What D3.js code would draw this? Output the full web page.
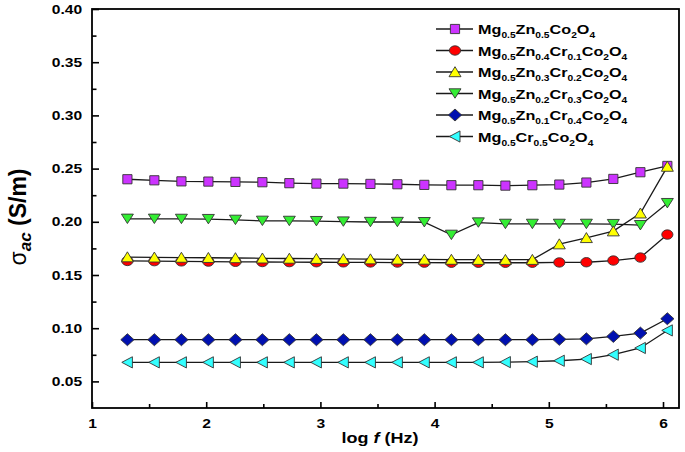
<!DOCTYPE html>
<html><head><meta charset="utf-8">
<script src="https://cdn.jsdelivr.net/npm/d3@7"></script>
<style>body{margin:0;background:#fff}svg{display:block}</style>
</head><body>
<svg id="chart" width="685" height="452"></svg>
<script>
// ---------- data ----------
const logF = [1.31,1.546,1.783,2.019,2.256,2.492,2.728,2.965,3.201,3.438,3.674,3.910,4.147,4.383,4.620,4.856,5.092,5.329,5.565,5.802,6.038];
const labels = ["Mg0.5Zn0.5Co2O4","Mg0.5Zn0.4Cr0.1Co2O4","Mg0.5Zn0.3Cr0.2Co2O4","Mg0.5Zn0.2Cr0.3Co2O4","Mg0.5Zn0.1Cr0.4Co2O4","Mg0.5Cr0.5Co2O4"];
const sZn05 = [0.240,0.239,0.238,0.2378,0.2375,0.2372,0.2363,0.2359,0.2359,0.2356,0.2353,0.2347,0.2344,0.2344,0.2340,0.2344,0.2350,0.2369,0.2403,0.2466,0.2525];
const sCr01 = [0.1632,0.1630,0.1628,0.1626,0.1624,0.1622,0.1621,0.1620,0.1619,0.1618,0.1617,0.1616,0.1615,0.1615,0.1615,0.1615,0.1618,0.1620,0.1636,0.1664,0.1880];
const sCr02 = [0.1668,0.1666,0.1664,0.1662,0.1660,0.1657,0.1655,0.1653,0.1651,0.1649,0.1647,0.1646,0.1645,0.1644,0.1644,0.1644,0.1790,0.1849,0.1912,0.2080,0.2519];
const sCr03 = [0.2028,0.2028,0.2027,0.2025,0.2018,0.2009,0.2008,0.2006,0.2002,0.1998,0.1998,0.1996,0.1877,0.1993,0.1980,0.1980,0.1980,0.1980,0.1978,0.1968,0.2175];
const sCr04 = [0.0892,0.0892,0.0892,0.0892,0.0892,0.0892,0.0892,0.0892,0.0892,0.0892,0.0892,0.0892,0.0892,0.0892,0.0892,0.0892,0.0895,0.0900,0.0923,0.0954,0.1089];
const sCr05 = [0.0679,0.0679,0.0679,0.0679,0.0679,0.0679,0.0679,0.0679,0.0679,0.0679,0.0679,0.0679,0.0679,0.0679,0.0681,0.0685,0.0694,0.0710,0.0751,0.0814,0.0979];
const markerTypes = ["square","circle","up","down","diamond","left"];
const colors = ["#cc33ff","#ff0000","#ffff00","#33ee33","#0010b0","#33ffff"];
const xTicks = [1,2,3,4,5,6];
const xMinorTicks = [1.5,2.5,3.5,4.5,5.5];
const yTicks = [0.05,0.10,0.15,0.20,0.25,0.30,0.35,0.40];
const yMinorTicks = [0.075,0.125,0.175,0.225,0.275,0.325,0.375];

const allSeries = [sZn05,sCr01,sCr02,sCr03,sCr04,sCr05];

// ---------- layout ----------
const SX = 1.2; // horizontal text stretch as in the original
const L = 92, R = 679, T = 9, B = 408;
const svg = d3.select("#chart");
const x = d3.scaleLinear().domain([1, 6.14]).range([L, R]);
const y = d3.scaleLinear().domain([0.025, 0.40]).range([B, T]);
const FONT = "'Liberation Sans', Arial, sans-serif";

function markerPath(type){
  switch(type){
    case "square": return "M-4.6,-4.6H4.6V4.6H-4.6Z";
    case "up": return "M0,-5.3L6,4.7L-6,4.7Z";
    case "down": return "M0,4.7L6,-4.7L-6,-4.7Z";
    case "diamond": return "M0,-6L6.6,0L0,6L-6.6,0Z";
    case "left": return "M-5.6,0L5,-5.6L5,5.6Z";
  }
  return null;
}
function drawMarker(g, type, fill){
  if(type === "circle"){
    return g.append("ellipse").attr("rx",5.6).attr("ry",4.7)
      .attr("fill",fill).attr("stroke","#333").attr("stroke-width",0.9);
  }
  return g.append("path").attr("d",markerPath(type))
    .attr("fill",fill).attr("stroke","#333").attr("stroke-width",0.9);
}

// ---------- axes ----------
const yAxis = d3.axisLeft(y).tickValues(yTicks).tickSize(-7).tickPadding(8.3).tickFormat(d3.format(".2f"));
const gy = svg.append("g").attr("transform",`translate(${L},0)`).call(yAxis);
const gyMinor = svg.append("g").attr("transform",`translate(${L},0)`)
  .call(d3.axisLeft(y).tickValues(yMinorTicks).tickSize(-4.5).tickFormat(""));
const xAxis = d3.axisBottom(x).tickValues(xTicks).tickSize(-6).tickPadding(11).tickFormat(d3.format("d"));
const gx = svg.append("g").attr("transform",`translate(0,${B})`).call(xAxis);
const gxMinor = svg.append("g").attr("transform",`translate(0,${B})`)
  .call(d3.axisBottom(x).tickValues(xMinorTicks).tickSize(-4).tickFormat(""));
[gy,gyMinor,gx,gxMinor].forEach(g=>{
  g.select(".domain").remove();
  g.selectAll(".tick line").attr("stroke","#000").attr("stroke-width",1.6);
  g.selectAll(".tick text").attr("fill","#000")
    .style("font-family",FONT).style("font-weight","bold").style("font-size","13px")
    .attr("transform",`scale(${SX},1)`);
});

// frame
svg.append("rect").attr("x",L).attr("y",T).attr("width",R-L).attr("height",B-T)
  .attr("fill","none").attr("stroke","#000").attr("stroke-width",1.8);

// axis titles
const xt = svg.append("g").attr("transform",`translate(380,443) scale(${SX},1)`)
  .append("text").attr("text-anchor","middle")
  .style("font-family",FONT).style("font-weight","bold").style("font-size","15px");
xt.append("tspan").text("log ");
xt.append("tspan").style("font-style","italic").text("f");
xt.append("tspan").text(" (Hz)");

const yt = svg.append("text").attr("transform","translate(26,217) rotate(-90)")
  .attr("text-anchor","middle").style("font-family",FONT).style("font-size","23px");
yt.append("tspan").text("σ");
yt.append("tspan").attr("dy",5).style("font-weight","bold").style("font-style","italic").style("font-size","17px").text("ac");
yt.append("tspan").attr("dy",-5).style("font-weight","bold").text(" (S/m)");

// ---------- series ----------
const line = d3.line().x((d,i)=>x(logF[i])).y(d=>y(d));
const drawOrder = [0,1,3,4,5,2];
drawOrder.forEach(k=>{
  const vals = allSeries[k];
  svg.append("path").attr("d",line(vals)).attr("fill","none")
    .attr("stroke","#1a1a1a").attr("stroke-width",1.3);
  vals.forEach((v,i)=>{
    const g = svg.append("g").attr("transform",`translate(${x(logF[i])},${y(v)})`);
    drawMarker(g, markerTypes[k], colors[k]);
  });
});

// ---------- legend ----------
function parseFormula(s){
  const parts = [];
  const re = /([A-Z][a-z]?)([\d.]*)/g; let m;
  while((m = re.exec(s))) parts.push([m[1], m[2]]);
  return parts;
}
labels.forEach((lab,k)=>{
  const ry = 29 + k*21.5;
  svg.append("line").attr("x1",436).attr("x2",473).attr("y1",ry).attr("y2",ry)
    .attr("stroke","#1a1a1a").attr("stroke-width",1.3);
  const g = svg.append("g").attr("transform",`translate(455,${ry})`);
  drawMarker(g, markerTypes[k], colors[k]);
  const t = svg.append("g").attr("transform",`translate(478,${ry+5}) scale(${SX},1)`)
    .append("text").style("font-family",FONT).style("font-weight","bold");
  let shifted = 0;
  parseFormula(lab).forEach(([el,num])=>{
    t.append("tspan").attr("dy",-shifted).style("font-size","13.5px").text(el);
    shifted = 0;
    if(num){
      t.append("tspan").attr("dy",4).style("font-size","8.5px").text(num);
      shifted = 4;
    }
  });
});
</script>
</body></html>
